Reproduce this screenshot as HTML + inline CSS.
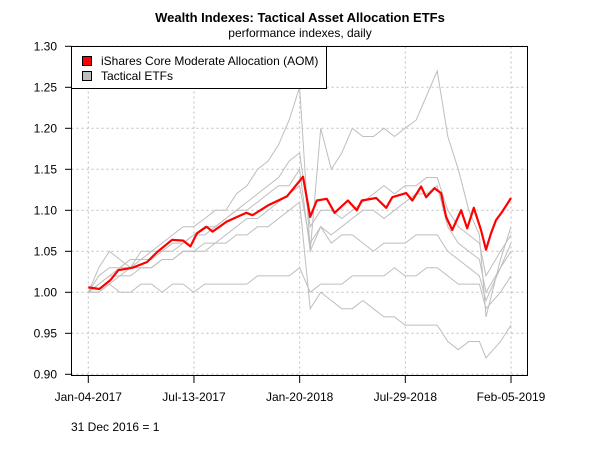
<!DOCTYPE html>
<html><head><meta charset="utf-8"><style>
html,body{margin:0;padding:0;background:#fff;}
svg text{font-family:"Liberation Sans",Arial,sans-serif;}
</style></head><body>
<svg id="chart" width="600" height="450" viewBox="0 0 600 450" xmlns="http://www.w3.org/2000/svg">
<rect width="600" height="450" fill="#fff"/>
<text x="300" y="22" text-anchor="middle" font-size="13" font-weight="bold">Wealth Indexes: Tactical Asset Allocation ETFs</text>
<text x="300" y="37" text-anchor="middle" font-size="12">performance indexes, daily</text>
<g id="grid"></g>
<g id="series"></g>
<rect x="71.5" y="46.5" width="456" height="329" fill="none" stroke="#000" stroke-width="1"/>
<g id="axes"></g>
<g>
<rect x="71.5" y="46.5" width="255" height="42" fill="#fff" stroke="#000"/>
<rect x="82.5" y="56.5" width="9" height="9" fill="#ff0000" stroke="#000"/>
<text x="101" y="65" font-size="12">iShares Core Moderate Allocation (AOM)</text>
<rect x="82.5" y="71.5" width="9" height="9" fill="#bebebe" stroke="#000"/>
<text x="101" y="80" font-size="12">Tactical ETFs</text>
</g>
<text x="71" y="431" font-size="12">31 Dec 2016 = 1</text>
</svg>
<script>
const yTicks = [0.90, 0.95, 1.00, 1.05, 1.10, 1.15, 1.20, 1.25, 1.30];
const yTickLabels = ["0.90","0.95","1.00","1.05","1.10","1.15","1.20","1.25","1.30"];
const xTickDays = [0, 190.5, 381, 571.5, 762];
const xTickLabels = ["Jan-04-2017","Jul-13-2017","Jan-20-2018","Jul-29-2018","Feb-05-2019"];
const aomDays = [0,20,40,54,80,106,124,151,171,184,196,213,224,249,285,296,324,358,380,387,400,412,430,444,468,484,493,519,537,548,573,584,600,609,624,636,645,656,672,683,695,708,717,726,735,746,762];
const aomValues = [1.006,1.004,1.015,1.027,1.030,1.037,1.049,1.064,1.063,1.056,1.072,1.080,1.074,1.086,1.097,1.094,1.106,1.117,1.135,1.141,1.092,1.112,1.114,1.097,1.112,1.100,1.112,1.115,1.103,1.116,1.121,1.112,1.129,1.116,1.127,1.121,1.092,1.076,1.100,1.078,1.103,1.076,1.052,1.072,1.088,1.098,1.115];
const grayDays = [0,19,38,57,76,95,114,133,152,171,190,210,229,248,267,286,305,324,343,362,381,400,419,438,457,476,495,514,533,552,571,591,610,629,648,667,686,705,717,743,762];
const tactical1 = [1.00,1.03,1.05,1.04,1.03,1.05,1.05,1.06,1.07,1.08,1.08,1.09,1.10,1.10,1.12,1.13,1.15,1.16,1.18,1.21,1.25,1.05,1.20,1.15,1.17,1.20,1.19,1.19,1.20,1.19,1.20,1.21,1.24,1.27,1.19,1.15,1.10,1.07,0.97,1.04,1.08];
const tactical2 = [1.00,1.01,1.02,1.03,1.03,1.04,1.04,1.05,1.05,1.06,1.07,1.07,1.08,1.09,1.10,1.11,1.12,1.13,1.14,1.16,1.17,1.08,1.10,1.10,1.09,1.10,1.11,1.12,1.13,1.12,1.13,1.13,1.14,1.14,1.10,1.08,1.07,1.06,1.02,1.05,1.07];
const tactical3 = [1.00,1.00,1.01,1.02,1.02,1.03,1.03,1.04,1.04,1.05,1.05,1.06,1.06,1.07,1.08,1.09,1.09,1.10,1.11,1.12,1.13,1.06,1.08,1.06,1.07,1.07,1.06,1.05,1.06,1.06,1.06,1.07,1.07,1.07,1.05,1.04,1.03,1.02,0.99,1.03,1.06];
const tactical4 = [1.00,1.00,1.01,1.00,1.00,1.01,1.01,1.00,1.01,1.01,1.00,1.01,1.01,1.01,1.01,1.01,1.02,1.02,1.02,1.02,1.03,1.00,1.01,1.01,1.01,1.02,1.02,1.02,1.02,1.03,1.02,1.02,1.03,1.03,1.02,1.01,1.01,1.01,0.98,1.00,1.02];
const tactical5 = [1.00,1.01,1.02,1.02,1.03,1.03,1.03,1.04,1.04,1.05,1.05,1.05,1.06,1.06,1.07,1.07,1.08,1.08,1.09,1.10,1.11,0.98,1.00,0.99,0.98,0.98,0.99,0.98,0.97,0.97,0.96,0.96,0.96,0.96,0.94,0.93,0.94,0.94,0.92,0.94,0.96];
const tactical6 = [1.00,1.02,1.03,1.03,1.04,1.04,1.05,1.05,1.06,1.06,1.07,1.08,1.08,1.09,1.10,1.10,1.11,1.12,1.13,1.13,1.15,1.05,1.08,1.07,1.08,1.09,1.10,1.10,1.09,1.10,1.11,1.12,1.12,1.13,1.08,1.06,1.05,1.04,1.00,1.03,1.05];

const NS = "http://www.w3.org/2000/svg";
function xScale(d){ return 88.3 + d * (511 - 88.3) / 762; }
function yScale(v){ return 374.3 - (v - 0.90) * 820; }
function mk(tag, attrs){ const e = document.createElementNS(NS, tag); for (const k in attrs) e.setAttribute(k, attrs[k]); return e; }

const grid = document.getElementById('grid');
const axes = document.getElementById('axes');
yTicks.forEach((v, i) => {
  const y = yScale(v);
  const g = mk('line', {x1:71.5, x2:527.5, y1:y, y2:y, stroke:'#bebebe', 'stroke-dasharray':'2,3'});
  
  
  grid.appendChild(g);
  const t = mk('line', {x1:65, x2:71.5, y1:y, y2:y, stroke:'#000'});
  
  
  axes.appendChild(t);
  const l = mk('text', {x:57, y:y + 4, 'text-anchor':'end', 'font-size':12});
  
  
  l.textContent = yTickLabels[i];
  axes.appendChild(l);
});
xTickDays.forEach((d, i) => {
  const x = xScale(d);
  const g = mk('line', {x1:x, x2:x, y1:46.5, y2:375.5, stroke:'#bebebe', 'stroke-dasharray':'2,3'});
  
  
  grid.appendChild(g);
  const t = mk('line', {x1:x, x2:x, y1:375.5, y2:383, stroke:'#000'});
  
  
  axes.appendChild(t);
  const l = mk('text', {x:x, y:401, 'text-anchor':'middle', 'font-size':12});
  
  
  l.textContent = xTickLabels[i];
  axes.appendChild(l);
});

const series = document.getElementById('series');
function stepPath(days, vals){
  let d = '';
  days.forEach((dd, i) => {
    const x = xScale(dd), y = yScale(vals[i]);
    d += (i === 0 ? 'M' : 'L') + x.toFixed(1) + ',' + y.toFixed(1);
  });
  return d;
}
[tactical1, tactical2, tactical3, tactical4, tactical5, tactical6].forEach((vals, i) => {
  const p = mk('path', {d: stepPath(grayDays, vals), fill:'none', stroke:'#bebebe', 'stroke-width':1});
  
  
  series.appendChild(p);
});
const red = mk('path', {d: stepPath(aomDays, aomValues), fill:'none', stroke:'#ff0000', 'stroke-width':2.2, 'stroke-linejoin':'round'});


series.appendChild(red);
</script>
</body></html>
